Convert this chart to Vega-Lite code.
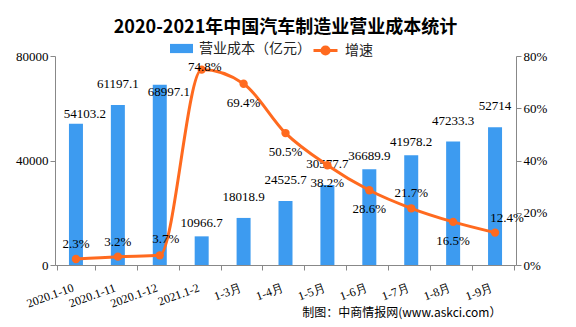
{
  "$schema": "https://vega.github.io/schema/vega-lite/v6.json",
  "width": 461,
  "height": 209,
  "autosize": {"type": "none"},
  "padding": {"left": 55, "top": 56, "right": 60, "bottom": 62},
  "background": "white",
  "config": {"view": {"stroke": null}},
  "title": {
    "text": "2020-2021年中国汽车制造业营业成本统计",
    "font": "Noto Sans CJK SC",
    "fontSize": 18,
    "fontWeight": "bold",
    "color": "#000000",
    "anchor": "middle",
    "offset": 0
  },
  "data": {
    "values": [
      {"month": "2020.1-10", "cost": 54103.2, "growth": 0.023},
      {"month": "2020.1-11", "cost": 61197.1, "growth": 0.032},
      {"month": "2020.1-12", "cost": 68997.1, "growth": 0.037},
      {"month": "2021.1-2", "cost": 10966.7, "growth": 0.748},
      {"month": "1-3月", "cost": 18018.9, "growth": 0.694},
      {"month": "1-4月", "cost": 24525.7, "growth": 0.505},
      {"month": "1-5月", "cost": 30577.7, "growth": 0.382},
      {"month": "1-6月", "cost": 36689.9, "growth": 0.286},
      {"month": "1-7月", "cost": 41978.2, "growth": 0.217},
      {"month": "1-8月", "cost": 47233.3, "growth": 0.165},
      {"month": "1-9月", "cost": 52714, "growth": 0.124}
    ]
  },
  "encoding": {
    "x": {
      "field": "month",
      "type": "ordinal",
      "sort": null,
      "title": "制图：中商情报网(www.askci.com）",
      "axis": {
        "domainColor": "#888888",
        "tickColor": "#888888",
        "tickBand": "extent",
        "tickSize": 5,
        "labelAngle": -20,
        "labelAlign": "right",
        "labelBaseline": "top",
        "labelPadding": 12,
        "labelOffset": -5,
        "labelFont": "Liberation Serif",
        "labelFontSize": 12,
        "labelColor": "#000000",
        "titleFont": "Noto Sans CJK SC",
        "titleFontSize": 12,
        "titleFontWeight": "normal",
        "titleColor": "#000000",
        "titleAlign": "right",
        "titleAnchor": "end",
        "titleX": 446,
        "titleY": 47,
        "titleBaseline": "middle"
      }
    }
  },
  "layer": [
    {
      "encoding": {
        "y": {
          "field": "cost",
          "type": "quantitative",
          "scale": {"domain": [0, 80000]},
          "axis": {
            "title": null,
            "values": [0, 40000, 80000],
            "grid": false,
            "domainColor": "#888888",
            "tickColor": "#888888",
            "tickSize": 5,
            "labelFont": "Liberation Serif",
            "labelFontSize": 13,
            "labelColor": "#000000",
            "labelPadding": 2,
            "format": "d"
          }
        }
      },
      "layer": [
        {
          "mark": {"type": "bar", "size": 14},
          "encoding": {
            "color": {
              "datum": "营业成本（亿元）",
              "scale": {"range": ["#3D9BF0"]},
              "legend": {
                "title": null,
                "orient": "none",
                "legendX": 115,
                "legendY": -19,
                "symbolType": "M-1,-0.4H1V0.4H-1Z",
                "symbolSize": 529,
                "symbolStrokeWidth": 0,
                "labelFont": "Noto Sans CJK SC",
                "labelFontSize": 14,
                "labelColor": "#222222",
                "labelOffset": 6
              }
            }
          }
        },
        {
          "transform": [{"filter": {"field": "month", "oneOf": ["2021.1-2", "1-6月", "1-7月"]}}],
          "mark": {"type": "text", "dy": -13, "font": "Liberation Serif", "fontSize": 13, "color": "#000000"},
          "encoding": {"text": {"field": "cost", "type": "nominal"}}
        },
        {
          "transform": [{"filter": {"field": "month", "oneOf": ["2020.1-10"]}}],
          "mark": {"type": "text", "dy": -10, "dx": 9, "font": "Liberation Serif", "fontSize": 13, "color": "#000000"},
          "encoding": {"text": {"field": "cost", "type": "nominal"}}
        },
        {
          "transform": [{"filter": {"field": "month", "oneOf": ["2020.1-12"]}}],
          "mark": {"type": "text", "dy": 7, "dx": 9, "font": "Liberation Serif", "fontSize": 13, "color": "#000000"},
          "encoding": {"text": {"field": "cost", "type": "nominal"}}
        },
        {
          "transform": [{"filter": {"field": "month", "oneOf": ["2020.1-11", "1-3月", "1-4月", "1-5月", "1-8月", "1-9月"]}}],
          "mark": {"type": "text", "dy": -21, "font": "Liberation Serif", "fontSize": 13, "color": "#000000"},
          "encoding": {"text": {"field": "cost", "type": "nominal"}}
        }
      ]
    },
    {
      "encoding": {
        "y": {
          "field": "growth",
          "type": "quantitative",
          "scale": {"domain": [0, 0.8]},
          "axis": {
            "orient": "right",
            "title": null,
            "values": [0, 0.2, 0.4, 0.6, 0.8],
            "format": ".0%",
            "grid": false,
            "domainColor": "#888888",
            "tickColor": "#888888",
            "tickSize": 5,
            "labelFont": "Liberation Serif",
            "labelFontSize": 13,
            "labelColor": "#000000",
            "labelPadding": 2
          }
        }
      },
      "layer": [
        {
          "mark": {"type": "line", "interpolate": "monotone", "strokeWidth": 3},
          "encoding": {
            "stroke": {
              "datum": "增速",
              "scale": {"range": ["#FF6A1F"]},
              "legend": {
                "title": null,
                "orient": "none",
                "legendX": 257,
                "legendY": -19,
                "symbolType": "M-1,0H1M0.3,0A0.3,0.3 0 1,1 -0.3,0A0.3,0.3 0 1,1 0.3,0",
                "symbolSize": 576,
                "symbolStrokeWidth": 3,
                "symbolFillColor": "#FF6A1F",
                "labelFont": "Noto Sans CJK SC",
                "labelFontSize": 14,
                "labelColor": "#222222",
                "labelOffset": 6
              }
            }
          }
        },
        {
          "mark": {"type": "point", "filled": true, "size": 70, "opacity": 1, "color": "#FF6A1F"}
        },
        {
          "transform": [{"filter": {"field": "month", "oneOf": ["2020.1-10", "2020.1-11", "1-7月"]}}],
          "mark": {"type": "text", "dy": -15, "font": "Liberation Serif", "fontSize": 13, "color": "#000000"},
          "encoding": {"text": {"field": "growth", "type": "quantitative", "format": ".1%"}}
        },
        {
          "transform": [{"filter": {"field": "month", "oneOf": ["2020.1-12"]}}],
          "mark": {"type": "text", "dy": -16, "dx": 6, "font": "Liberation Serif", "fontSize": 13, "color": "#000000"},
          "encoding": {"text": {"field": "growth", "type": "quantitative", "format": ".1%"}}
        },
        {
          "transform": [{"filter": {"field": "month", "oneOf": ["1-9月"]}}],
          "mark": {"type": "text", "dy": -15, "dx": 12, "font": "Liberation Serif", "fontSize": 13, "color": "#000000"},
          "encoding": {"text": {"field": "growth", "type": "quantitative", "format": ".1%"}}
        },
        {
          "transform": [{"filter": {"field": "month", "oneOf": ["2021.1-2"]}}],
          "mark": {"type": "text", "dy": -3, "dx": 3, "font": "Liberation Serif", "fontSize": 13, "color": "#000000"},
          "encoding": {"text": {"field": "growth", "type": "quantitative", "format": ".1%"}}
        },
        {
          "transform": [{"filter": {"field": "month", "oneOf": ["1-3月", "1-4月", "1-6月", "1-8月"]}}],
          "mark": {"type": "text", "dy": 19, "font": "Liberation Serif", "fontSize": 13, "color": "#000000"},
          "encoding": {"text": {"field": "growth", "type": "quantitative", "format": ".1%"}}
        },
        {
          "transform": [{"filter": {"field": "month", "oneOf": ["1-5月"]}}],
          "mark": {"type": "text", "dy": 18, "font": "Liberation Serif", "fontSize": 13, "color": "#000000"},
          "encoding": {"text": {"field": "growth", "type": "quantitative", "format": ".1%"}}
        }
      ]
    }
  ],
  "resolve": {"scale": {"y": "independent", "color": "independent"}}
}
